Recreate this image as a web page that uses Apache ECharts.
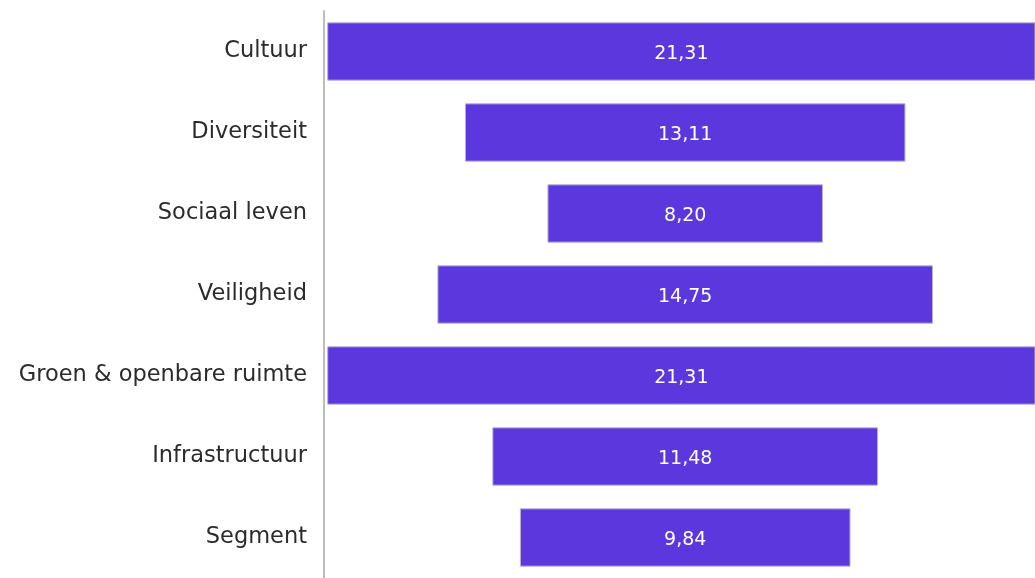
<!DOCTYPE html>
<html>
<head>
<meta charset="utf-8">
<script src="https://cdn.jsdelivr.net/npm/echarts@6/dist/echarts.min.js"></script>
<style>html,body{margin:0;padding:0;background:#fff;}#c{width:1035px;height:578px;}</style>
</head>
<body>
<div id="c"></div>
<script>
const categories = ["Cultuur","Diversiteit","Sociaal leven","Veiligheid","Groen & openbare ruimte","Infrastructuur","Segment"];
const values = [21.31,13.11,8.20,14.75,21.31,11.48,9.84];
const center = 10.75;
const axisMax = 21.16;
const offsets = values.map(v => center - v / 2);

const chart = echarts.init(document.getElementById('c'));
chart.setOption({
  animation: false,
  grid: { left: 324, right: 0, top: 11, bottom: -3, containLabel: false },
  xAxis: { type: 'value', min: 0, max: axisMax, show: false },
  yAxis: {
    type: 'category', data: categories, inverse: true,
    axisLine: { show: true, lineStyle: { color: '#bdbdbd', width: 2 } },
    axisTick: { show: false },
    axisLabel: { color: '#2b2b2b', fontSize: 22.5, fontFamily: 'DejaVu Sans', margin: 17 }
  },
  series: [
    { type: 'bar', stack: 'f', data: offsets, itemStyle: { color: 'transparent' }, barWidth: '72%', silent: true },
    { type: 'bar', stack: 'f', data: values, barWidth: '72%', clip: true,
      itemStyle: { color: '#5b38de', borderColor: '#b9b3d6', borderWidth: 1 },
      label: { show: true, position: 'inside', offset: [0, 3], color: '#fff', fontSize: 19, fontFamily: 'DejaVu Sans',
        formatter: p => p.value.toFixed(2).replace('.', ',') } }
  ]
});
</script>
</body>
</html>
